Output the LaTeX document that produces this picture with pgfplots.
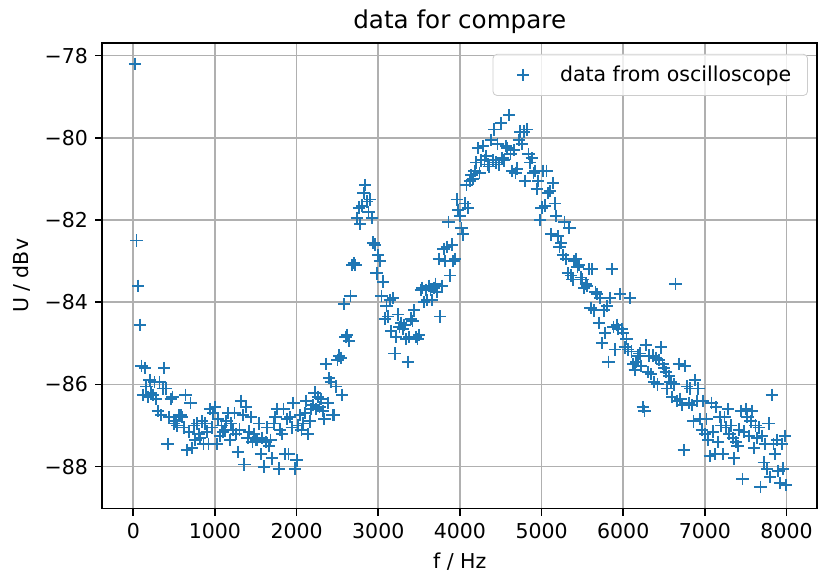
\documentclass[border=0pt]{standalone}
\usepackage{fontspec}
\setmainfont{DejaVu Sans}
\usepackage{pgfplots}
\usepackage{pgfplotstable}
\pgfplotsset{compat=1.18}
\definecolor{mplblue}{HTML}{1F77B4}
\definecolor{gridgray}{HTML}{B0B0B0}
\pgfplotstableread[row sep=\\]{
f U\\
20 -78.20\\ 40 -82.50\\ 60 -83.60\\ 80 -84.55\\ 100 -85.55\\ 120 -86.25\\ 140 -85.60\\ 160 -86.05\\ 180 -86.30\\ 200 -85.90\\
220 -86.20\\ 240 -86.25\\ 260 -85.95\\ 280 -86.35\\ 300 -86.65\\ 320 -85.95\\ 340 -86.75\\ 360 -86.10\\ 380 -85.60\\ 400 -86.10\\
420 -87.45\\ 440 -86.80\\ 460 -86.35\\ 480 -86.30\\ 500 -86.95\\ 520 -86.90\\ 540 -87.00\\ 560 -86.75\\ 580 -86.75\\ 600 -86.80\\
620 -87.05\\ 640 -86.25\\ 660 -87.60\\ 680 -87.15\\ 700 -86.45\\ 720 -87.55\\ 740 -87.00\\ 760 -87.35\\ 780 -86.95\\ 800 -87.20\\
820 -87.30\\ 840 -86.90\\ 860 -87.45\\ 880 -86.95\\ 900 -87.15\\ 920 -87.45\\ 940 -86.60\\ 960 -87.05\\ 980 -86.70\\ 1000 -86.55\\
1020 -87.45\\ 1040 -86.85\\ 1060 -87.25\\ 1080 -87.00\\ 1100 -87.15\\ 1120 -87.10\\ 1140 -86.90\\ 1160 -86.70\\ 1180 -87.35\\ 1200 -86.95\\
1220 -87.10\\ 1240 -86.70\\ 1260 -87.20\\ 1280 -87.65\\ 1300 -87.10\\ 1320 -86.40\\ 1340 -86.75\\ 1360 -87.95\\ 1380 -86.55\\ 1400 -87.30\\
1420 -87.15\\ 1440 -86.80\\ 1460 -87.40\\ 1480 -87.20\\ 1500 -87.35\\ 1520 -87.35\\ 1540 -86.95\\ 1560 -87.70\\ 1580 -87.30\\ 1600 -88.00\\
1620 -87.40\\ 1640 -87.05\\ 1660 -87.50\\ 1680 -87.35\\ 1700 -87.80\\ 1720 -86.95\\ 1740 -86.80\\ 1760 -86.60\\ 1780 -88.05\\ 1800 -87.10\\
1820 -87.20\\ 1840 -86.60\\ 1860 -87.70\\ 1880 -86.85\\ 1900 -87.70\\ 1920 -86.80\\ 1940 -87.05\\ 1960 -86.45\\ 1980 -88.05\\ 2000 -87.85\\
2020 -87.00\\ 2040 -86.75\\ 2060 -87.10\\ 2080 -86.95\\ 2100 -86.70\\ 2120 -86.40\\ 2140 -87.20\\ 2160 -86.90\\ 2180 -86.60\\ 2200 -86.50\\
2220 -86.20\\ 2240 -86.60\\ 2260 -86.30\\ 2280 -86.55\\ 2300 -86.35\\ 2320 -86.65\\ 2340 -86.85\\ 2360 -85.50\\ 2380 -86.45\\ 2400 -85.85\\
2420 -85.95\\ 2440 -86.75\\ 2460 -86.75\\ 2480 -86.05\\ 2500 -85.40\\ 2520 -85.30\\ 2540 -85.35\\ 2560 -86.25\\ 2580 -84.05\\ 2600 -84.85\\
2620 -84.80\\ 2640 -84.95\\ 2660 -83.85\\ 2680 -83.10\\ 2700 -83.05\\ 2720 -83.10\\ 2740 -81.95\\ 2760 -81.70\\ 2780 -82.10\\ 2800 -81.65\\
2820 -81.35\\ 2840 -81.15\\ 2860 -81.55\\ 2880 -81.80\\ 2900 -81.50\\ 2920 -81.95\\ 2940 -82.55\\ 2960 -82.60\\ 2980 -83.30\\ 3000 -82.85\\
3020 -83.00\\ 3040 -83.85\\ 3060 -83.50\\ 3080 -84.40\\ 3100 -84.10\\ 3120 -84.35\\ 3140 -83.95\\ 3160 -84.70\\ 3180 -83.90\\ 3200 -85.25\\
3220 -84.85\\ 3240 -84.30\\ 3260 -84.60\\ 3280 -84.50\\ 3300 -84.65\\ 3320 -84.55\\ 3340 -84.90\\ 3360 -85.45\\ 3380 -84.85\\ 3400 -84.40\\
3420 -84.45\\ 3440 -84.20\\ 3460 -84.85\\ 3480 -84.90\\ 3500 -84.80\\ 3520 -83.70\\ 3540 -83.65\\ 3560 -84.00\\ 3580 -83.70\\ 3600 -83.95\\
3620 -83.60\\ 3640 -83.70\\ 3660 -83.95\\ 3680 -83.65\\ 3700 -83.55\\ 3720 -83.75\\ 3740 -82.95\\ 3760 -84.35\\ 3780 -83.60\\ 3800 -82.70\\
3820 -83.00\\ 3840 -82.65\\ 3860 -82.05\\ 3880 -83.35\\ 3900 -82.60\\ 3920 -83.00\\ 3940 -82.95\\ 3960 -81.50\\ 3980 -81.75\\ 4000 -81.90\\
4020 -82.20\\ 4040 -82.35\\ 4060 -81.60\\ 4080 -81.15\\ 4100 -81.70\\ 4120 -81.05\\ 4140 -80.90\\ 4160 -81.00\\ 4180 -80.80\\ 4200 -80.60\\
4220 -80.25\\ 4240 -80.85\\ 4260 -80.55\\ 4280 -80.20\\ 4300 -80.55\\ 4320 -80.45\\ 4340 -80.65\\ 4360 -80.70\\ 4380 -80.05\\ 4400 -80.55\\
4420 -79.80\\ 4440 -80.60\\ 4460 -80.15\\ 4480 -80.65\\ 4500 -79.65\\ 4520 -80.50\\ 4540 -80.55\\ 4560 -80.20\\ 4580 -80.25\\ 4600 -79.45\\
4620 -80.40\\ 4640 -80.80\\ 4660 -80.30\\ 4680 -80.85\\ 4700 -80.75\\ 4720 -80.05\\ 4740 -79.85\\ 4760 -80.15\\ 4780 -79.85\\ 4800 -81.05\\
4820 -79.80\\ 4840 -80.40\\ 4860 -80.60\\ 4880 -80.50\\ 4900 -80.85\\ 4920 -80.80\\ 4940 -81.25\\ 4960 -81.05\\ 4980 -82.00\\ 5000 -81.70\\
5020 -80.80\\ 5040 -81.65\\ 5060 -80.80\\ 5080 -81.35\\ 5100 -81.30\\ 5120 -82.35\\ 5140 -81.10\\ 5160 -81.60\\ 5180 -81.90\\ 5200 -82.40\\
5220 -82.65\\ 5240 -82.55\\ 5260 -82.85\\ 5280 -82.05\\ 5300 -82.95\\ 5320 -83.30\\ 5340 -82.20\\ 5360 -83.35\\ 5380 -83.45\\ 5400 -83.00\\
5420 -82.95\\ 5440 -83.15\\ 5460 -83.10\\ 5480 -83.40\\ 5500 -83.45\\ 5520 -83.65\\ 5540 -83.55\\ 5560 -83.60\\ 5580 -83.20\\ 5600 -84.15\\
5620 -83.20\\ 5640 -84.20\\ 5660 -83.75\\ 5680 -83.80\\ 5700 -84.50\\ 5720 -83.90\\ 5740 -85.00\\ 5760 -84.20\\ 5780 -84.75\\ 5800 -84.10\\
5820 -85.45\\ 5840 -83.90\\ 5860 -83.20\\ 5880 -84.60\\ 5900 -85.15\\ 5920 -84.55\\ 5940 -84.65\\ 5960 -83.80\\ 5980 -84.65\\ 6000 -84.75\\
6020 -85.10\\ 6040 -84.90\\ 6060 -85.15\\ 6080 -83.90\\ 6100 -85.20\\ 6120 -85.50\\ 6140 -85.65\\ 6160 -85.45\\ 6180 -85.30\\ 6200 -85.25\\
6220 -85.55\\ 6240 -86.55\\ 6260 -86.65\\ 6280 -85.05\\ 6300 -85.70\\ 6320 -85.30\\ 6340 -85.75\\ 6360 -85.30\\ 6380 -85.95\\ 6400 -85.35\\
6420 -86.00\\ 6440 -85.40\\ 6460 -85.10\\ 6480 -85.50\\ 6500 -85.60\\ 6520 -85.70\\ 6540 -86.10\\ 6560 -85.80\\ 6580 -85.95\\ 6600 -86.30\\
6620 -86.00\\ 6640 -83.55\\ 6660 -86.40\\ 6680 -85.50\\ 6700 -86.35\\ 6720 -86.50\\ 6740 -87.60\\ 6760 -85.55\\ 6780 -86.05\\ 6800 -86.45\\
6820 -86.10\\ 6840 -86.50\\ 6860 -86.90\\ 6880 -85.90\\ 6900 -86.40\\ 6920 -86.10\\ 6940 -86.85\\ 6960 -87.10\\ 6980 -86.40\\ 7000 -87.20\\
7020 -86.85\\ 7040 -87.35\\ 7060 -87.75\\ 7080 -86.45\\ 7100 -87.15\\ 7120 -87.70\\ 7140 -86.55\\ 7160 -87.40\\ 7180 -86.80\\ 7200 -87.00\\
7220 -87.70\\ 7240 -86.80\\ 7260 -87.05\\ 7280 -86.60\\ 7300 -87.20\\ 7320 -87.00\\ 7340 -87.30\\ 7360 -87.80\\ 7380 -87.40\\ 7400 -87.50\\
7420 -87.10\\ 7440 -86.65\\ 7460 -88.30\\ 7480 -87.15\\ 7500 -86.60\\ 7520 -86.80\\ 7540 -87.25\\ 7560 -86.90\\ 7580 -86.65\\ 7600 -87.55\\
7620 -87.00\\ 7640 -87.30\\ 7660 -87.05\\ 7680 -88.50\\ 7700 -87.25\\ 7720 -87.90\\ 7740 -87.45\\ 7760 -88.05\\ 7780 -86.95\\ 7800 -88.25\\
7820 -86.25\\ 7840 -87.45\\ 7860 -87.70\\ 7880 -87.35\\ 7900 -88.10\\ 7920 -88.40\\ 7940 -87.45\\ 7960 -88.05\\ 7980 -87.25\\ 7990 -88.45\\
}\datatable
\begin{document}
\begin{tikzpicture}
\begin{axis}[
  scale only axis,
  width=348.8pt, height=227pt,
  xmin=-380, xmax=8375,
  ymin=-89.02, ymax=-77.70,
  xtick={0,1000,2000,3000,4000,5000,6000,7000,8000},
  xticklabels={0,1000,2000,3000,4000,5000,6000,7000,8000},
  ytick={-88,-86,-84,-82,-80,-78},
  yticklabels={−88,−86,−84,−82,−80,−78},
  xtick pos=left, ytick pos=left,
  tick align=outside,
  major tick length=3.5pt,
  every tick/.style={black, line width=0.8pt},
  axis line style={black, line width=0.8pt},
  grid=major,
  major grid style={gridgray, line width=0.8pt},
  tick label style={font=\fontsize{10}{12}\selectfont},
  xlabel={f / Hz},
  ylabel={U / dBv},
  label style={font=\fontsize{10}{12}\selectfont},
  title={data for compare},
  title style={font=\fontsize{12}{14}\selectfont, yshift=-5pt},
  legend style={at={(1,1)}, anchor=north east, xshift=-4.5pt, yshift=-5.2pt,
    draw=black!20, rounded corners=2pt, fill=white, fill opacity=0.8, text opacity=1,
    font=\fontsize{10}{12}\selectfont, inner xsep=6pt, inner ysep=3.5pt},
  legend cell align=left,
  legend image code/.code={\path (0cm,0cm); \draw[#1] plot coordinates {(0.3cm,0cm)};},
]
\addplot[only marks, mark=+, mark size=3pt, color=mplblue, mark options={line width=0.9pt}] table[x=f, y=U] {\datatable};
\addlegendentry{\hspace{13pt}data from oscilloscope}
\end{axis}
\pgfresetboundingbox
\path[use as bounding box] ([xshift=-49.9pt,yshift=-32.8pt]current axis.south west) rectangle ([xshift=0.4pt,yshift=21.1pt]current axis.north east);
\end{tikzpicture}
\end{document}
